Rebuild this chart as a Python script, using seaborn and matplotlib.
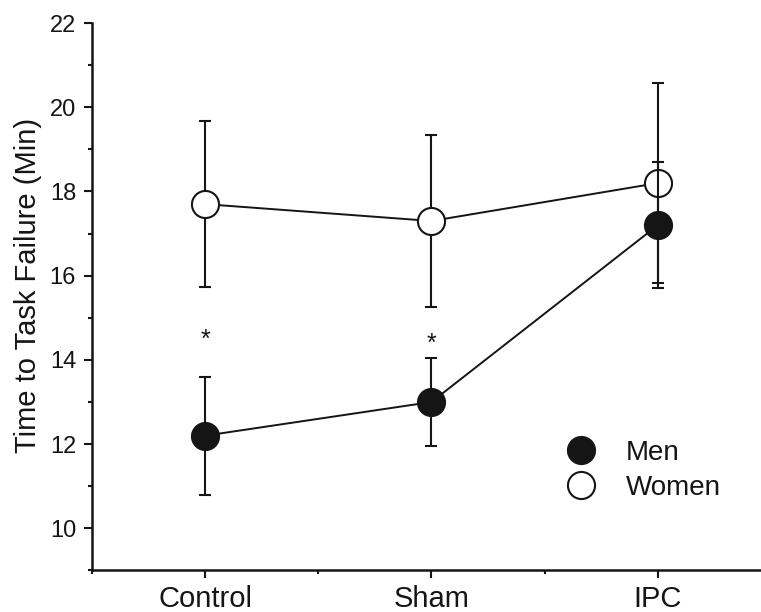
import matplotlib
matplotlib.use("Agg")
import matplotlib.pyplot as plt
import seaborn as sns
import pandas as pd
from matplotlib.lines import Line2D
from matplotlib.ticker import FixedLocator, MultipleLocator

# ---- data ----
conditions = ["Control", "Sham", "IPC"]
men_mean = [12.2, 13.0, 17.2]
men_err = [1.4, 1.05, 1.5]
women_mean = [17.7, 17.3, 18.2]
women_err = [1.98, 2.04, 2.38]
star_conditions = ["Control", "Sham"]
star_y = [14.30, 14.21]
ylabel = "Time to Task Failure (Min)"

sns.set_theme(style="ticks")
plt.rcParams["font.family"] = ["Liberation Sans", "DejaVu Sans"]

ink = "#151515"
pos = list(range(len(conditions)))
df_men = pd.DataFrame({"x": pos, "y": men_mean})
df_women = pd.DataFrame({"x": pos, "y": women_mean})

fig = plt.figure(figsize=(7.61, 6.12), dpi=100)
ax = fig.add_axes([92 / 761, 41.6 / 612, (761 - 92) / 761, (570.4 - 23.1) / 612])

# women: error bars, then line + markers
ax.errorbar(pos, women_mean, yerr=women_err, fmt="none", ecolor=ink,
            elinewidth=1.5, capsize=4.5, capthick=1.5, zorder=2)
sns.lineplot(data=df_women, x="x", y="y", ax=ax, color=ink, lw=1.4,
             marker="o", markersize=19.5, markerfacecolor="white",
             markeredgecolor=ink, markeredgewidth=1.5, zorder=3)
# men
ax.errorbar(pos, men_mean, yerr=men_err, fmt="none", ecolor=ink,
            elinewidth=1.5, capsize=4.5, capthick=1.5, zorder=4)
sns.lineplot(data=df_men, x="x", y="y", ax=ax, color=ink, lw=1.4,
             marker="o", markersize=19.5, markerfacecolor=ink,
             markeredgecolor=ink, markeredgewidth=1.5, zorder=5)

for c, yv in zip(star_conditions, star_y):
    ax.text(conditions.index(c), yv, "*", ha="center", va="baseline",
            fontsize=18, color=ink)

ax.set_xlim(-0.5, 2.456)
ax.set_ylim(9, 22)
ax.set_xticks(pos)
ax.set_xticklabels(conditions)
ax.xaxis.set_minor_locator(FixedLocator([-0.5, 0.5, 1.5, 2.5]))
ax.set_yticks([10, 12, 14, 16, 18, 20, 22])
ax.yaxis.set_minor_locator(MultipleLocator(1))
ax.set_xlabel("")
ax.set_ylabel(ylabel, fontsize=21, color=ink)
ax.yaxis.set_label_coords(-0.074, 0.52)

for s in ["top", "right"]:
    ax.spines[s].set_visible(False)
for s in ["left", "bottom"]:
    ax.spines[s].set_linewidth(1.8)
    ax.spines[s].set_color(ink)

ax.tick_params(axis="both", which="major", direction="out", length=5.5,
               width=1.5, color=ink)
ax.tick_params(axis="both", which="minor", direction="out", length=3.2,
               width=1.5, color=ink)
ax.tick_params(axis="x", which="major", labelsize=21, pad=5, labelcolor=ink)
ax.tick_params(axis="y", which="major", labelsize=17, pad=6, labelcolor=ink)

handles = [
    Line2D([], [], ls="none", marker="o", markersize=19.5, markerfacecolor=ink,
           markeredgecolor=ink, markeredgewidth=1.5),
    Line2D([], [], ls="none", marker="o", markersize=19.5, markerfacecolor="white",
           markeredgecolor=ink, markeredgewidth=1.5),
]
ax.legend(handles, ["Men", "Women"], loc="upper left",
          bbox_to_anchor=(567.5 / 761, 1 - 440 / 612), bbox_transform=fig.transFigure,
          frameon=False, fontsize=20, handlelength=1.0, handletextpad=1.1,
          labelspacing=0.32, borderpad=0, borderaxespad=0, labelcolor=ink)

fig.savefig("out.png", dpi=100)
